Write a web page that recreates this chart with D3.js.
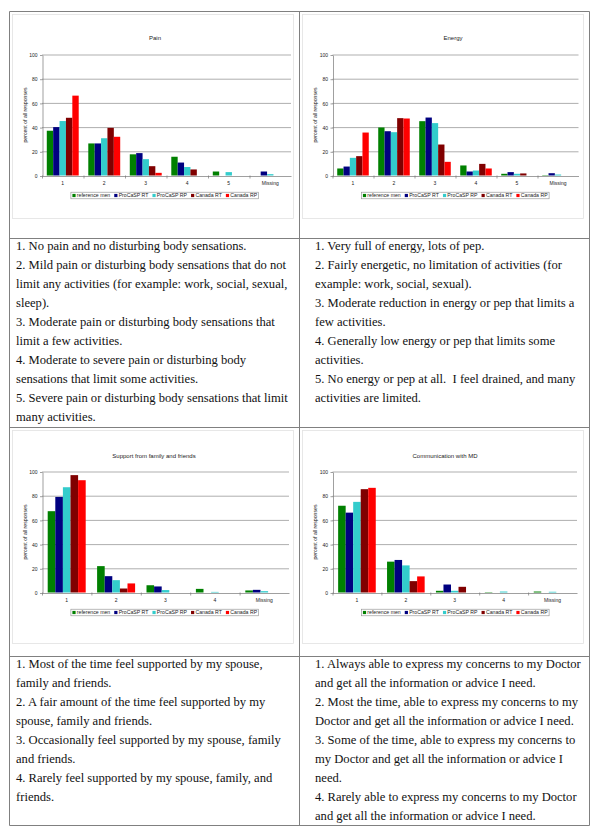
<!DOCTYPE html>
<html>
<head>
<meta charset="utf-8">
<script src="https://cdn.jsdelivr.net/npm/d3@7"></script>
<style>
  body { margin: 0; background: #fff; }
  svg { display: block; }
</style>
</head>
<body>
<script>
// series shared by all four charts
const seriesNames = ["reference men", "ProCaSP RT", "ProCaSP RP", "Canada RT", "Canada RP"];
const seriesColors = ["#008000", "#000080", "#33cccc", "#800000", "#ff0000"];
const yTicks = [0, 20, 40, 60, 80, 100];

// Pain (rows = series, columns = categories)
const painCats = ["1", "2", "3", "4", "5", "Missing"];
const painValues = [
  [37, 26.5, 17.5, 15.5, 3.3, 0],
  [40, 26.5, 18.5, 10.7, 0, 3.3],
  [45, 30.8, 13.5, 7, 2.8, 1.1],
  [47.7, 39.4, 7.7, 5, 0, 0],
  [66, 32, 2.2, 0, 0, 0]
];

// Energy
const energyCats = ["1", "2", "3", "4", "5", "Missing"];
const energyValues = [
  [5.8, 39.7, 44.9, 8.3, 1.4, 0.3],
  [7.4, 36.6, 47.9, 3.3, 2.8, 1.9],
  [14.6, 35.8, 43.3, 4.1, 1.4, 0.8],
  [16, 47.4, 25.6, 9.6, 1.7, 0],
  [35.5, 47.1, 11.3, 5.8, 0, 0]
];

// Support from family and friends
const supportCats = ["1", "2", "3", "4", "Missing"];
const supportValues = [
  [67.2, 21.8, 6, 3, 1.7],
  [79, 13.5, 5, 0, 2.2],
  [87, 10.2, 2, 0.5, 1.1],
  [97, 3.3, 0, 0, 0],
  [92.8, 7.5, 0, 0, 0]
];

// Communication with MD
const commCats = ["1", "2", "3", "4", "Missing"];
const commValues = [
  [71.7, 25.5, 1.4, 0.3, 0.8],
  [66, 26.9, 6.6, 0, 0],
  [74.9, 22.4, 1.4, 0.8, 0.6],
  [85.4, 9.4, 4.7, 0, 0],
  [86.5, 13.3, 0, 0, 0]
];

// answer texts, one entry per printed line
const painText = [
  "1. No pain and no disturbing body sensations.",
  "2. Mild pain or disturbing body sensations that do not",
  "limit any activities (for example: work, social, sexual,",
  "sleep).",
  "3. Moderate pain or disturbing body sensations that",
  "limit a few activities.",
  "4. Moderate to severe pain or disturbing body",
  "sensations that limit some activities.",
  "5. Severe pain or disturbing body sensations that limit",
  "many activities."
];
const energyText = [
  "1. Very full of energy, lots of pep.",
  "2. Fairly energetic, no limitation of activities (for",
  "example: work, social, sexual).",
  "3. Moderate reduction in energy or pep that limits a",
  "few activities.",
  "4. Generally low energy or pep that limits some",
  "activities.",
  "5. No energy or pep at all.\u00a0 I feel drained, and many",
  "activities are limited."
];
const supportText = [
  "1. Most of the time feel supported by my spouse,",
  "family and friends.",
  "2. A fair amount of the time feel supported by my",
  "spouse, family and friends.",
  "3. Occasionally feel supported by my spouse, family",
  "and friends.",
  "4. Rarely feel supported by my spouse, family, and",
  "friends."
];
const commText = [
  "1. Always able to express my concerns to my Doctor",
  "and get all the information or advice I need.",
  "2. Most the time, able to express my concerns to my",
  "Doctor and get all the information or advice I need.",
  "3. Some of the time, able to express my concerns to",
  "my Doctor and get all the information or advice I",
  "need.",
  "4. Rarely able to express my concerns to my Doctor",
  "and get all the information or advice I need."
];

var w = 600;
var h = 833;
const chartFont = "'Liberation Sans', Arial, sans-serif";
const textFont = "'Liberation Serif', 'Times New Roman', serif";

const svg = d3.select("body").append("svg")
  .attr("width", w)
  .attr("height", h);

svg.append("rect").attr("width", w).attr("height", h).attr("fill", "#fff");

// table frame
const colX = [9.5, 299.5, 589.5];
const rowY = [11.5, 238.5, 427.5, 656.5, 825.5];
const frame = svg.append("g").attr("stroke", "#808080").attr("stroke-width", 1);
rowY.forEach(yy => frame.append("line").attr("x1", colX[0]).attr("x2", colX[2]).attr("y1", yy).attr("y2", yy));
colX.forEach(xx => frame.append("line").attr("x1", xx).attr("x2", xx).attr("y1", rowY[0]).attr("y2", rowY[4]));

function drawChart(c) {
  const g = svg.append("g");

  // faint outline of the pasted chart picture
  g.append("rect")
    .attr("x", c.frame[0] + 0.5).attr("y", c.frame[1] + 0.5)
    .attr("width", c.frame[2]).attr("height", c.frame[3])
    .attr("fill", "none").attr("stroke", "#e2e2e2").attr("stroke-width", 0.8);

  const x = d3.scaleBand().domain(c.cats).range([c.left, c.right]);
  const xs = d3.scaleBand().domain(seriesNames).range([0, x.bandwidth()]).paddingOuter(0.75);
  const y = d3.scaleLinear().domain([0, 100]).range([c.bottom, c.top]);

  // gridlines
  g.selectAll(".grid")
    .data(yTicks.slice(1))
    .join("line")
    .attr("x1", c.left).attr("x2", c.right)
    .attr("y1", d => y(d) + 0.5).attr("y2", d => y(d) + 0.5)
    .attr("stroke", "#8c8c8c").attr("stroke-width", 0.7);

  // bars
  const rows = [];
  c.values.forEach((vals, si) => vals.forEach((v, ci) => rows.push({ s: seriesNames[si], color: seriesColors[si], cat: c.cats[ci], v: v })));
  g.selectAll(".bar")
    .data(rows.filter(d => d.v > 0))
    .join("rect")
    .attr("x", d => x(d.cat) + xs(d.s))
    .attr("width", xs.bandwidth())
    .attr("y", d => y(d.v))
    .attr("height", d => y(0) - y(d.v))
    .attr("fill", d => d.color);

  // y axis
  const ya = g.append("g")
    .attr("transform", `translate(${c.left + 0.5},0.5)`)
    .call(d3.axisLeft(y).tickValues(yTicks).tickSize(2.5).tickSizeOuter(0).tickPadding(2.5));
  ya.select(".domain").attr("stroke", "#777").attr("stroke-width", 0.7);
  ya.selectAll(".tick line").attr("stroke", "#777").attr("stroke-width", 0.7);
  ya.selectAll("text").attr("font-family", chartFont).attr("font-size", 5).attr("fill", "#222");

  // x axis, labels centred on categories, ticks between them
  const xa = g.append("g")
    .attr("transform", `translate(0,${c.bottom + 0.5})`)
    .call(d3.axisBottom(x).tickSize(0).tickSizeOuter(0).tickPadding(5.5));
  xa.select(".domain").attr("stroke", "#777").attr("stroke-width", 0.7);
  xa.selectAll("text").attr("font-family", chartFont).attr("font-size", 5).attr("fill", "#222");
  g.selectAll(".xtick")
    .data(c.cats)
    .join("line")
    .attr("x1", d => x(d) + 0.5).attr("x2", d => x(d) + 0.5)
    .attr("y1", c.bottom).attr("y2", c.bottom + 3)
    .attr("stroke", "#777").attr("stroke-width", 0.7);

  // y label
  g.append("text")
    .attr("transform", `translate(${c.ylabelX},${(c.top + c.bottom) / 2}) rotate(-90)`)
    .attr("text-anchor", "middle")
    .attr("font-family", chartFont).attr("font-size", 5.2).attr("fill", "#222")
    .text("percent of all responses");

  // title
  g.append("text")
    .attr("x", c.titleX).attr("y", c.titleY)
    .attr("text-anchor", "middle")
    .attr("font-family", chartFont).attr("font-size", 6).attr("fill", "#222")
    .text(c.title);

  // legend
  const lg = g.append("g");
  let cx = 0;
  seriesNames.forEach((name, i) => {
    lg.append("rect").attr("x", cx).attr("y", -1.6).attr("width", 3.2).attr("height", 3.2).attr("fill", seriesColors[i]);
    const t = lg.append("text")
      .attr("x", cx + 4.4).attr("y", 1.9)
      .attr("font-family", chartFont).attr("font-size", 5.2).attr("fill", "#222")
      .text(name);
    cx += 4.4 + t.node().getComputedTextLength() + 4;
  });
  const lw = cx - 2.5;
  lg.insert("rect", ":first-child")
    .attr("x", -1.5).attr("y", -3.3).attr("width", lw + 1.5).attr("height", 6.6)
    .attr("fill", "#fff").attr("stroke", "#8c8c8c").attr("stroke-width", 0.6);
  lg.attr("transform", `translate(${c.legendCx - lw / 2},${c.legendY})`);
}

function drawText(lines, x0, y0) {
  svg.append("g")
    .selectAll("text")
    .data(lines)
    .join("text")
    .attr("x", x0)
    .attr("y", (d, i) => y0 + i * 19)
    .attr("font-family", textFont).attr("font-size", 12.6).attr("fill", "#111")
    .style("white-space", "pre")
    .text(d => d);
}

drawChart({ title: "Pain", cats: painCats, values: painValues,
  left: 42, right: 291, top: 54.5, bottom: 175.5,
  titleX: 155, titleY: 40, ylabelX: 27, legendCx: 165.5, legendY: 195.5,
  frame: [12, 14, 281, 204] });
drawChart({ title: "Energy", cats: energyCats, values: energyValues,
  left: 332.5, right: 578.5, top: 54.5, bottom: 175.5,
  titleX: 453, titleY: 40, ylabelX: 317, legendCx: 456, legendY: 195.5,
  frame: [302, 14, 281, 204] });
drawChart({ title: "Support from family and friends", cats: supportCats, values: supportValues,
  left: 42, right: 289, top: 471.5, bottom: 592.5,
  titleX: 154, titleY: 458, ylabelX: 27, legendCx: 165.5, legendY: 612.5,
  frame: [12, 430, 281, 213] });
drawChart({ title: "Communication with MD", cats: commCats, values: commValues,
  left: 332.5, right: 577, top: 471.5, bottom: 592.5,
  titleX: 445, titleY: 458, ylabelX: 317, legendCx: 456, legendY: 612.5,
  frame: [302, 430, 281, 213] });

drawText(painText, 16, 250);
drawText(energyText, 315, 250);
drawText(supportText, 16, 668);
drawText(commText, 315, 668);
</script>
</body>
</html>
